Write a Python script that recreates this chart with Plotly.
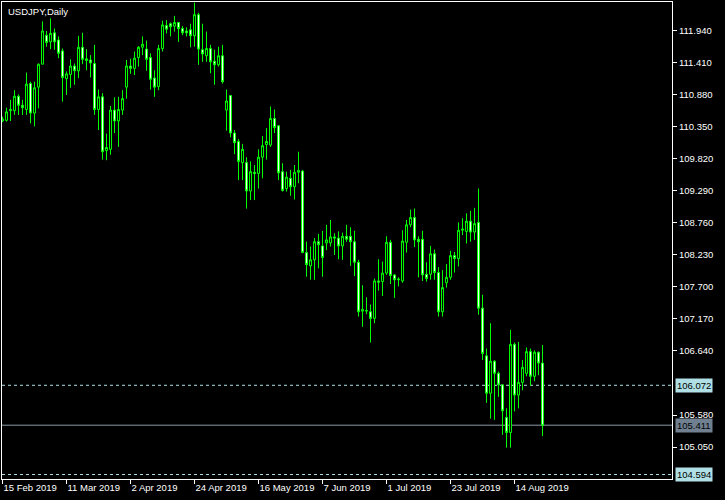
import plotly.graph_objects as go

opens = [110.45,110.46,110.62,110.62,110.86,110.71,110.64,111.07,110.58,111.01,
         111.39,111.87,111.76,111.91,111.79,111.61,111.15,111.22,111.36,111.28,
         111.67,111.45,111.46,111.40,110.64,110.85,109.96,109.98,110.63,110.45,
         110.63,111.01,111.36,111.32,111.50,111.67,111.64,111.50,111.16,111.02,
         111.65,112.03,112.06,112.02,112.08,111.98,111.94,111.96,111.86,112.21,
         111.63,111.53,111.65,111.44,111.38,111.53,110.63,110.87,110.25,110.11,
         109.76,109.76,109.29,109.60,109.58,109.85,110.06,110.05,110.49,110.37,
         109.61,109.33,109.50,109.36,109.60,109.62,108.27,108.05,108.15,108.45,
         108.38,108.43,108.43,108.53,108.51,108.38,108.54,108.54,108.45,108.11,
         107.30,107.30,107.29,107.18,107.80,107.79,107.93,108.44,107.90,107.82,
         107.80,108.44,108.73,108.85,108.49,108.49,107.91,107.91,108.25,107.94,
         107.29,107.77,107.86,108.22,108.17,108.64,108.62,108.79,108.61,108.77,
         107.35,106.56,105.94,106.47,106.27,106.08,105.54,105.29,106.75,105.91,
         106.12,106.27,106.63,106.22,106.62,106.44]
highs = [110.52,110.67,110.80,110.96,110.89,110.80,111.25,111.10,111.10,111.40,
         112.10,111.94,112.15,111.98,111.85,111.65,111.27,111.47,111.40,111.86,
         111.91,111.64,111.54,111.71,110.97,110.91,110.24,110.70,110.84,110.85,
         110.96,111.46,111.48,111.60,111.69,111.85,111.78,111.57,111.29,111.71,
         112.11,112.12,112.08,112.19,112.09,112.02,112.00,112.06,112.41,112.24,
         112.06,111.93,111.71,111.63,111.68,111.71,110.97,110.88,110.30,110.15,
         110.07,109.85,109.78,109.72,109.98,110.20,110.33,110.69,110.64,110.38,
         109.75,109.61,109.64,109.72,109.94,109.64,108.45,108.37,108.51,108.58,
         108.63,108.73,108.81,108.59,108.62,108.60,108.73,108.69,108.63,108.15,
         107.73,107.53,107.41,107.84,108.16,108.12,108.54,108.48,107.91,107.86,
         108.64,108.81,108.98,109.00,108.54,108.63,108.11,108.38,108.32,108.03,
         107.98,108.08,108.30,108.28,108.77,108.84,108.92,108.96,109.01,109.33,
         107.57,106.68,107.10,106.49,106.30,106.08,105.69,106.99,106.78,106.79,
         106.49,106.70,106.68,106.65,106.63,106.74]
lows = [110.43,110.44,110.45,110.55,110.55,110.55,110.55,110.41,110.36,110.66,
        111.39,111.68,111.64,111.63,111.49,110.77,110.88,111.00,111.05,111.16,
        111.39,111.29,111.17,110.55,110.30,109.81,109.80,109.89,110.25,110.02,
        110.55,110.82,111.23,111.21,111.35,111.54,111.28,110.97,110.85,110.96,
        111.60,111.90,111.85,111.93,111.76,111.87,111.85,111.67,111.68,111.38,
        111.43,111.43,111.24,111.05,111.35,111.07,110.29,110.18,109.90,109.47,
        109.47,109.00,109.14,109.14,109.33,109.50,109.81,110.02,110.25,109.47,
        109.28,109.28,109.21,109.15,109.42,108.26,107.87,107.82,107.82,108.01,
        107.87,108.31,108.37,108.23,108.16,108.15,108.45,108.05,107.88,107.21,
        107.04,107.25,106.78,107.10,107.64,107.55,107.90,107.75,107.52,107.71,
        107.77,108.27,108.69,108.36,107.86,107.80,107.79,107.82,107.82,107.21,
        107.21,107.69,107.82,107.94,108.04,108.56,108.42,108.45,108.48,107.24,
        106.49,105.78,105.52,105.50,105.88,105.25,105.04,105.04,105.64,105.69,
        105.99,106.22,106.06,106.14,106.24,105.23]
closes = [110.48,110.60,110.64,110.86,110.71,110.67,111.06,110.58,111.00,111.39,
          111.94,111.75,111.90,111.76,111.57,111.17,111.23,111.36,111.28,111.67,
          111.47,111.48,111.41,110.64,110.85,109.94,110.01,110.63,110.45,110.64,
          110.82,111.36,111.32,111.49,111.67,111.72,111.47,111.14,111.01,111.65,
          112.04,111.97,112.01,112.08,111.98,111.91,111.91,111.86,112.21,111.64,
          111.56,111.65,111.43,111.38,111.53,111.10,110.78,110.25,110.09,109.78,
          109.98,109.29,109.61,109.58,109.85,110.04,110.11,110.49,110.34,109.59,
          109.30,109.52,109.36,109.60,109.63,108.27,108.07,108.15,108.45,108.40,
          108.19,108.48,108.53,108.51,108.38,108.54,108.49,108.45,108.11,107.29,
          107.33,107.31,107.18,107.80,107.78,107.93,108.44,107.89,107.82,107.83,
          108.46,108.73,108.85,108.48,108.45,107.90,107.84,108.25,107.94,107.29,
          107.69,107.86,108.22,108.17,108.64,108.66,108.79,108.61,108.75,107.35,
          106.60,105.94,106.47,106.27,106.08,105.65,105.29,106.75,105.91,106.12,
          106.37,106.63,106.22,106.62,106.44,105.41]

tick_idx = [0, 16, 32, 48, 64, 80, 96, 112, 128]
tick_labels = ["15 Feb 2019", "11 Mar 2019", "2 Apr 2019", "24 Apr 2019", "16 May 2019",
               "7 Jun 2019", "1 Jul 2019", "23 Jul 2019", "14 Aug 2019"]
price_ticks = [111.940, 111.410, 110.880, 110.350, 109.820, 109.290, 108.760,
               108.230, 107.700, 107.170, 106.640, 105.580, 105.050]
dashed_levels = [106.072, 104.594]
bid_price = 105.411
title_text = "USDJPY,Daily"

x = list(range(len(opens)))
FONT = "Liberation Sans"

fig = go.Figure(go.Candlestick(
    x=x, open=opens, high=highs, low=lows, close=closes,
    increasing=dict(line=dict(color="#00ff00", width=1), fillcolor="#000000"),
    decreasing=dict(line=dict(color="#00ff00", width=1), fillcolor="#ffffff"),
    whiskerwidth=0, hoverinfo="skip", showlegend=False,
))

shapes = []
for lv in dashed_levels:
    shapes.append(dict(type="line", xref="paper", x0=0, x1=1, yref="y", y0=lv, y1=lv,
                       line=dict(color="#b0e0e6", width=1, dash="3px,3px"), layer="below"))
shapes.append(dict(type="line", xref="paper", x0=0, x1=1, yref="y", y0=bid_price, y1=bid_price,
                   line=dict(color="#8c9aa6", width=1), layer="below"))

annotations = [dict(text=title_text, xref="paper", yref="paper", x=0, y=1, xanchor="left",
                    yanchor="top", xshift=4, yshift=-2, showarrow=False,
                    font=dict(family=FONT, size=9.5, color="white"))]
for lv in dashed_levels:
    annotations.append(dict(text=f"{lv:.3f}", xref="paper", x=1, xanchor="left", xshift=3,
                            yref="y", y=lv, showarrow=False, bgcolor="#b0e0e6", borderpad=1,
                            font=dict(family=FONT, size=9.5, color="black")))
annotations.append(dict(text=f"{bid_price:.3f}", xref="paper", x=1, xanchor="left", xshift=3,
                        yref="y", y=bid_price, showarrow=False, bgcolor="#708090", borderpad=1,
                        font=dict(family=FONT, size=9.5, color="black")))

fig.update_layout(
    width=725, height=500,
    margin=dict(l=2, r=53, t=2, b=21),
    paper_bgcolor="black", plot_bgcolor="black",
    shapes=shapes, annotations=annotations,
    xaxis=dict(range=[-0.125, 167.375], rangeslider=dict(visible=False),
               tickmode="array", tickvals=tick_idx, ticktext=tick_labels,
               ticks="outside", ticklen=4, tickcolor="white", ticklabelposition="outside right",
               showgrid=False, zeroline=False, showline=True, linecolor="white", linewidth=1,
               mirror=True, tickfont=dict(family=FONT, size=9.5, color="white")),
    yaxis=dict(range=[104.52, 112.42], side="right", tickmode="array",
               tickvals=price_ticks, ticktext=[f"{p:.3f}" for p in price_ticks],
               ticks="outside", ticklen=4, tickcolor="white", showgrid=False, zeroline=False,
               showline=True, linecolor="white", linewidth=1, mirror=True,
               tickfont=dict(family=FONT, size=9.5, color="white")),
)

fig.write_html("out.html", config={"displayModeBar": False},
               post_script="document.body.style.margin='0';document.body.style.background='black';")
